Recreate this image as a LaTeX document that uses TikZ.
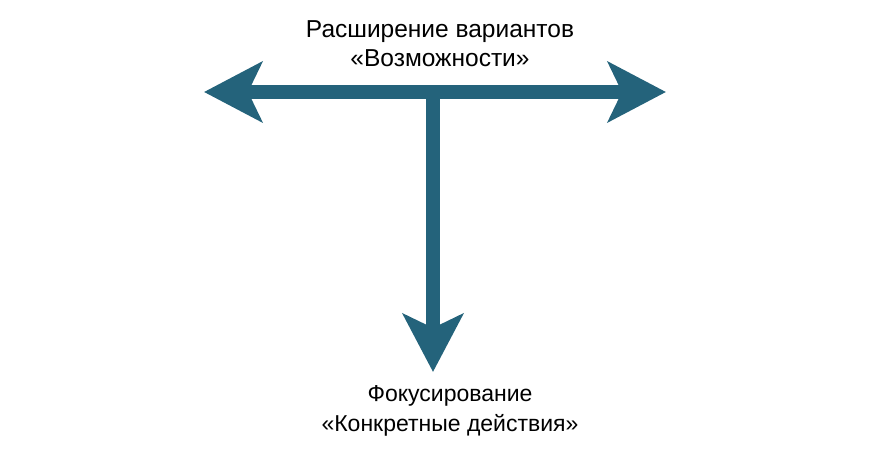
\documentclass[tikz,border=0pt]{standalone}
\usepackage{fontspec}
\setmainfont{Liberation Sans}
\usetikzlibrary{arrows.meta}
\definecolor{arr}{HTML}{24637B}
\begin{document}
\begin{tikzpicture}[x=1pt,y=-1pt,
  arrline/.style={draw=arr,line width=14pt,-{Stealth[length=58pt,width=60pt,inset=14pt]}},
  lbl/.style={font=\fontsize{24.5}{29}\selectfont,align=center}]
\useasboundingbox (0,0) rectangle (870,470);
\coordinate (L) at (204,92);
\coordinate (R) at (666,92);
\coordinate (C) at (433,92);
\coordinate (B) at (433,372);
\draw[arrline,{Stealth[length=58pt,width=60pt,inset=14pt]}-{Stealth[length=58pt,width=60pt,inset=14pt]}] (L) -- (R);
\draw[arrline] ([yshift=-7pt]C) -- (B);
\node[lbl] (top) at (440,44) {Расширение вариантов\\«Возможности»};
\node[lbl,font=\fontsize{23}{30}\selectfont] (bot) at (450,411) {Фокусирование\\«Конкретные действия»};
\end{tikzpicture}
\end{document}
